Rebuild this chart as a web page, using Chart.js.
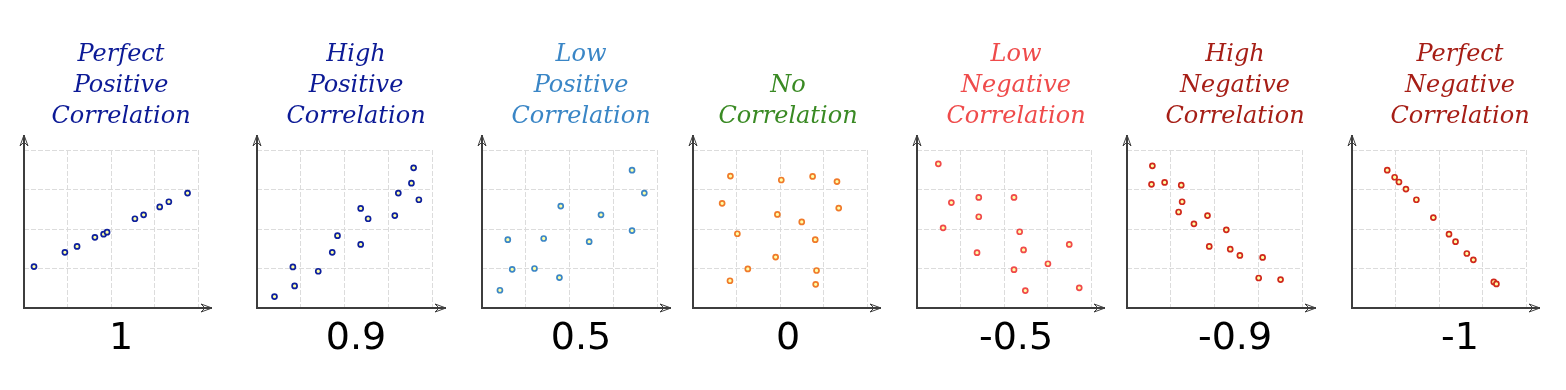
<!DOCTYPE html>
<html>
<head>
<meta charset="utf-8">
<script src="https://cdn.jsdelivr.net/npm/chart.js@4.4.1/dist/chart.umd.min.js"></script>
<style>
  html, body { margin: 0; padding: 0; background: #ffffff; overflow: hidden; }
  body { width: 1566px; height: 390px; position: relative; }
  canvas { position: absolute; top: 0; }
</style>
</head>
<body>
<script>
// ---------- data ----------
const panelTitles = [
  ["Perfect", "Positive", "Correlation"],
  ["High", "Positive", "Correlation"],
  ["Low", "Positive", "Correlation"],
  ["No", "Correlation"],
  ["Low", "Negative", "Correlation"],
  ["High", "Negative", "Correlation"],
  ["Perfect", "Negative", "Correlation"]
];
const coefficientLabels = ["1", "0.9", "0.5", "0", "-0.5", "-0.9", "-1"];

const perfectPositiveX = [0.23, 0.94, 1.22, 1.63, 1.83, 1.91, 2.55, 2.75, 3.12, 3.33, 3.76];
const perfectPositiveY = [1.05, 1.41, 1.56, 1.79, 1.87, 1.92, 2.26, 2.36, 2.56, 2.69, 2.91];

const highPositiveX = [0.40, 0.86, 0.82, 1.40, 1.72, 1.84, 2.37, 2.37, 2.54, 3.15, 3.23, 3.53, 3.58, 3.70];
const highPositiveY = [0.29, 0.56, 1.04, 0.93, 1.41, 1.83, 1.61, 2.52, 2.26, 2.34, 2.91, 3.16, 3.55, 2.74];

const lowPositiveX = [0.41, 0.69, 0.59, 1.20, 1.41, 1.77, 1.80, 2.45, 2.72, 3.43, 3.43, 3.71];
const lowPositiveY = [0.45, 0.98, 1.73, 1.00, 1.76, 0.77, 2.58, 1.68, 2.36, 1.96, 3.49, 2.91];

const noCorrelationX = [0.86, 2.03, 2.75, 3.31, 0.67, 3.35, 1.94, 2.50, 1.02, 2.81, 1.90, 1.26, 2.84, 0.85, 2.82];
const noCorrelationY = [3.34, 3.24, 3.33, 3.20, 2.65, 2.53, 2.37, 2.18, 1.88, 1.73, 1.29, 0.99, 0.95, 0.69, 0.60];

const lowNegativeX = [0.49, 0.79, 1.42, 2.23, 1.42, 0.60, 2.36, 3.50, 1.38, 2.45, 3.01, 2.23, 2.49, 3.73];
const lowNegativeY = [3.65, 2.67, 2.80, 2.80, 2.31, 2.03, 1.93, 1.61, 1.40, 1.47, 1.12, 0.97, 0.44, 0.51];

const highNegativeX = [0.58, 0.56, 0.86, 1.24, 1.26, 1.18, 1.53, 1.84, 2.27, 1.88, 2.36, 2.58, 3.10, 3.01, 3.51];
const highNegativeY = [3.60, 3.13, 3.18, 3.11, 2.69, 2.43, 2.13, 2.34, 1.98, 1.56, 1.49, 1.33, 1.28, 0.76, 0.72];

const perfectNegativeX = [0.81, 0.98, 1.08, 1.24, 1.48, 1.87, 2.23, 2.38, 2.64, 2.79, 3.26, 3.32];
const perfectNegativeY = [3.49, 3.31, 3.19, 3.01, 2.74, 2.29, 1.87, 1.68, 1.38, 1.22, 0.66, 0.61];

const seriesX = [perfectPositiveX, highPositiveX, lowPositiveX, noCorrelationX, lowNegativeX, highNegativeX, perfectNegativeX];
const seriesY = [perfectPositiveY, highPositiveY, lowPositiveY, noCorrelationY, lowNegativeY, highNegativeY, perfectNegativeY];

// ---------- styling / layout ----------
const titleColors = ["#0c1a96", "#0c1a96", "#3a86c6", "#3a8a24", "#ef4b4b", "#a61e16", "#a61e16"];
const pointColors = ["#0d1f9c", "#0d1f9c", "#3c86c6", "#f07a2a", "#f04a4a", "#d0281c", "#d0281c"];
// canvas centre, and left/right room around the plotting area
const canvasCenters = [121, 356, 581, 788, 1016, 1235, 1460];
const padLefts  = [23, 21, 21, 25, 21, 12, 12];
const padRights = [43, 44, 44, 41, 45, 53, 54];
const CANVAS_W = 240, CANVAS_H = 390;

const axisArrows = {
  id: 'axisArrows',
  afterDraw(chart) {
    const { ctx, chartArea: { left, right, top, bottom } } = chart;
    const xEnd = right + 14, yEnd = top - 15;
    ctx.save();
    ctx.strokeStyle = '#3d3d3d';
    ctx.lineWidth = 2;
    ctx.beginPath();
    ctx.moveTo(left, bottom);
    ctx.lineTo(xEnd, bottom);
    ctx.moveTo(left, bottom + 1);
    ctx.lineTo(left, yEnd);
    ctx.stroke();
    ctx.lineWidth = 1;
    // x arrowhead
    ctx.beginPath();
    ctx.moveTo(xEnd, bottom);
    ctx.lineTo(xEnd - 11, bottom - 4);
    ctx.lineTo(xEnd - 7, bottom);
    ctx.lineTo(xEnd - 11, bottom + 4);
    ctx.closePath();
    ctx.stroke();
    // y arrowhead
    ctx.beginPath();
    ctx.moveTo(left, yEnd);
    ctx.lineTo(left - 4, yEnd + 11);
    ctx.lineTo(left, yEnd + 7);
    ctx.lineTo(left + 4, yEnd + 11);
    ctx.closePath();
    ctx.stroke();
    ctx.restore();
  }
};

function gridScale(extra) {
  return Object.assign({
    type: 'linear',
    min: 0,
    max: 4,
    ticks: { display: false, stepSize: 1 },
    grid: { color: '#dcdcdc', lineWidth: 1, drawTicks: false, borderDash: [5, 2] },
    border: { display: false, dash: [5, 2] }
  }, extra);
}

for (let i = 0; i < 7; i++) {
  const canvas = document.createElement('canvas');
  canvas.width = CANVAS_W;
  canvas.height = CANVAS_H;
  canvas.style.width = CANVAS_W + 'px';
  canvas.style.height = CANVAS_H + 'px';
  canvas.style.left = (canvasCenters[i] - CANVAS_W / 2) + 'px';
  document.body.appendChild(canvas);

  const pts = seriesX[i].map((x, k) => ({ x: x, y: seriesY[i][k] }));
  const lines = panelTitles[i].length;
  const padL = padLefts[i], padR = padRights[i];

  new Chart(canvas, {
    type: 'scatter',
    data: {
      datasets: [{
        data: pts,
        pointRadius: 2.5,
        pointHoverRadius: 2.5,
        borderWidth: 1.7,
        borderColor: pointColors[i],
        backgroundColor: '#ffffa6'
      }]
    },
    options: {
      responsive: false,
      animation: false,
      devicePixelRatio: 1,
      events: [],
      layout: { padding: 0 },
      scales: {
        x: gridScale({ position: 'bottom', afterFit: s => { s.height = 0; } }),
        y: gridScale({ position: 'left', afterFit: s => { s.width = padL; } }),
        y2: {
          type: 'linear', position: 'right', min: 0, max: 4,
          ticks: { display: false },
          grid: { display: false, drawTicks: false },
          border: { display: false },
          afterFit: s => { s.width = padR; }
        }
      },
      plugins: {
        legend: { display: false },
        tooltip: { enabled: false },
        title: {
          display: true,
          text: panelTitles[i],
          color: titleColors[i],
          font: { family: '"DejaVu Serif", serif', style: 'italic', weight: 'normal', size: 24, lineHeight: '31px' },
          padding: { top: 39 + (3 - lines) * 31, bottom: 18 }
        },
        subtitle: {
          display: true,
          position: 'bottom',
          text: coefficientLabels[i],
          color: '#000000',
          font: { family: '"DejaVu Sans", sans-serif', weight: 'normal', size: 38, lineHeight: '46px' },
          padding: { top: 8, bottom: 28 }
        }
      }
    },
    plugins: [axisArrows]
  });
}
</script>
</body>
</html>
